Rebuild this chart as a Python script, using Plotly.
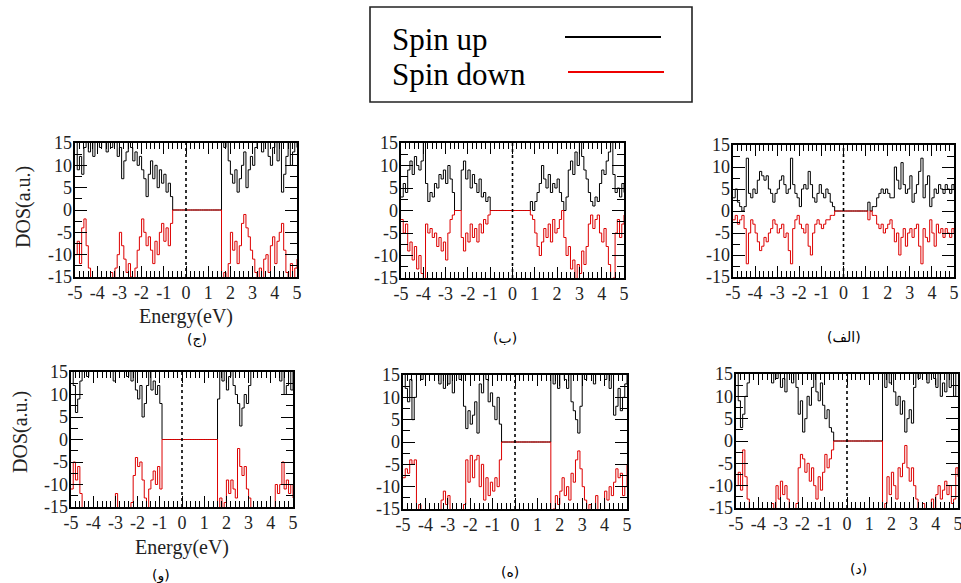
import plotly.graph_objects as go

# ---------------- data ----------------
ENERGY = [-5.0, -4.9, -4.8, -4.7, -4.6, -4.5, -4.4, -4.3, -4.2, -4.1,
          -4.0, -3.9, -3.8, -3.7, -3.6, -3.5, -3.4, -3.3, -3.2, -3.1,
          -3.0, -2.9, -2.8, -2.7, -2.6, -2.5, -2.4, -2.3, -2.2, -2.1,
          -2.0, -1.9, -1.8, -1.7, -1.6, -1.5, -1.4, -1.3, -1.2, -1.1,
          -1.0, -0.9, -0.8, -0.7, -0.6, -0.5, -0.4, -0.3, -0.2, -0.1,
          0.0, 0.1, 0.2, 0.3, 0.4, 0.5, 0.6, 0.7, 0.8, 0.9,
          1.0, 1.1, 1.2, 1.3, 1.4, 1.5, 1.6, 1.7, 1.8, 1.9,
          2.0, 2.1, 2.2, 2.3, 2.4, 2.5, 2.6, 2.7, 2.8, 2.9,
          3.0, 3.1, 3.2, 3.3, 3.4, 3.5, 3.6, 3.7, 3.8, 3.9,
          4.0, 4.1, 4.2, 4.3, 4.4, 4.5, 4.6, 4.7, 4.8, 4.9,
          5.0]

# panel (الف)
UP_A = [3, 5, 2, 1, 0, 1, 12, 4, 3, 5,
        4, 7, 9, 8, 7, 8, 5, 4, 2, 4,
        5, 7, 8, 6, 4, 5, 12, 6, 4, 3,
        1, 5, 6, 5, 9, 6, 3, 2, 4, 6,
        4, 3, 5, 4, 2, 1, 0, 0, 0, 0,
        0, 0, 0, 0, 0, 0, 0, 0, 0, 0,
        0, 2, 0, 1, 1, 3, 4, 5, 4, 5,
        4, 3, 3, 10, 7, 5, 11, 6, 4, 5,
        8, 2, 4, 6, 9, 12, 3, 6, 8, 1,
        3, 5, 4, 6, 5, 4, 6, 5, 4, 6,
        5]
DOWN_A = [-2, -1, -3, -2, -1, -4, -12, -5, -2, -3,
          -5, -7, -9, -8, -6, -7, -5, -4, -2, -3,
          -5, -4, -3, -6, -5, -9, -12, -4, -2, -1,
          -3, -4, -5, -3, -8, -10, -5, -3, -2, -3,
          -4, -3, -2, -2, -1, -1, 0, 0, 0, 0,
          0, 0, 0, 0, 0, 0, 0, 0, 0, 0,
          0, -2, 0, -1, -1, -3, -4, -3, -5, -4,
          -3, -2, -4, -7, -5, -10, -6, -4, -8, -5,
          -4, -6, -4, -3, -8, -12, -4, -6, -7, -2,
          -5, -8, -3, -5, -4, -6, -4, -5, -6, -4,
          -5]

# panel (ب)
UP_B = [3, 6, 4, 9, 11, 8, 12, 10, 9, 11,
        20, 6, 2, 4, 3, 6, 5, 8, 7, 9,
        6, 10, 7, 4, 0, 0, 0, 9, 11, 7,
        9, 5, 8, 6, 4, 7, 3, 4, 2, 3,
        0, 0, 0, 0, 0, 0, 0, 0, 0, 0,
        0, 0, 0, 0, 0, 0, 0, 0, 2, 0,
        2, 4, 6, 10, 7, 5, 8, 4, 6, 5,
        7, 4, 2, 0, 3, 9, 11, 8, 13, 10,
        20, 12, 9, 7, 4, 2, 1, 3, 2, 6,
        9, 8, 11, 13, 20, 8, 4, 5, 3, 6,
        4]
DOWN_B = [-2, -5, -3, -9, -7, -11, -8, -13, -10, -14,
          -20, -3, -5, -4, -6, -5, -8, -6, -9, -7,
          -11, -5, -2, -1, 0, 0, 0, -6, -9, -5,
          -7, -3, -6, -4, -7, -3, -5, -2, -3, -1,
          0, 0, 0, 0, 0, 0, 0, 0, 0, 0,
          0, 0, 0, 0, 0, 0, 0, 0, -1, -2,
          -5, -8, -10, -7, -4, -6, -3, -7, -2, -5,
          -4, -2, 0, -6, -10, -8, -13, -11, -20, -12,
          -14, -9, -12, -8, -3, -1, -4, -2, -1, -5,
          -7, -4, -8, -12, -20, -15, -5, -2, -6, -3,
          -1]

# panel (ج)
UP_C = [20, 9, 12, 8, 14, 20, 13, 20, 12, 20,
        20, 14, 20, 20, 13, 20, 14, 20, 20, 12,
        14, 7, 11, 13, 20, 14, 11, 13, 10, 12,
        9, 7, 3, 8, 11, 7, 10, 5, 9, 6,
        8, 4, 6, 3, 0, 0, 0, 0, 0, 0,
        0, 0, 0, 0, 0, 0, 0, 0, 0, 0,
        0, 0, 0, 0, 0, 0, 20, 14, 20, 11,
        8, 6, 9, 4, 7, 10, 13, 5, 9, 12,
        10, 14, 20, 20, 13, 20, 20, 12, 10, 14,
        20, 11, 20, 4, 8, 12, 20, 10, 13, 20,
        14]
DOWN_C = [-10, -7, -12, -4, -2, -8, -13, -20, -20, -20,
          -20, -20, -20, -20, -20, -20, -14, -20, -13, -10,
          -5, -8, -11, -14, -12, -15, -20, -13, -9, -6,
          -2, -5, -8, -6, -9, -12, -7, -10, -5, -3,
          -7, -4, -8, -3, 0, 0, 0, 0, 0, 0,
          0, 0, 0, 0, 0, 0, 0, 0, 0, 0,
          0, 0, 0, 0, 0, 0, -20, -14, -20, -12,
          -5, -9, -7, -12, -8, -3, -1, -4, -6, -9,
          -11, -14, -20, -13, -20, -11, -10, -14, -8, -6,
          -12, -7, -5, -3, -9, -14, -20, -12, -20, -13,
          -11]

# panel (د)
UP_D = [20, 9, 3, 6, 10, 13, 20, 20, 20, 20,
        20, 20, 20, 20, 20, 20, 13, 20, 14, 20,
        12, 14, 11, 20, 20, 13, 20, 12, 6, 9,
        2, 5, 10, 8, 12, 20, 11, 9, 13, 8,
        5, 7, 3, 2, 0, 0, 0, 0, 0, 0,
        0, 0, 0, 0, 0, 0, 0, 0, 0, 0,
        0, 0, 0, 0, 0, 0, 20, 12, 20, 13,
        20, 11, 8, 10, 6, 9, 2, 5, 7, 4,
        12, 20, 14, 20, 20, 20, 13, 20, 20, 14,
        12, 20, 10, 13, 11, 20, 12, 20, 10, 20,
        20]
DOWN_D = [-10, -7, -11, -2, -8, -13, -20, -20, -20, -20,
          -20, -20, -20, -20, -20, -20, -14, -20, -10, -13,
          -9, -12, -10, -13, -20, -20, -20, -14, -6, -3,
          -4, -7, -5, -9, -6, -10, -13, -8, -11, -7,
          -3, -6, -4, -2, 0, 0, 0, 0, 0, 0,
          0, 0, 0, 0, 0, 0, 0, 0, 0, 0,
          0, 0, 0, 0, 0, 0, -20, -14, -8, -12,
          -7, -10, -13, -6, -8, -5, -1, -6, -9, -6,
          -10, -13, -20, -20, -14, -20, -20, -20, -13, -20,
          -12, -10, -13, -11, -9, -12, -10, -14, -13, -6,
          -8]

# panel (ه)
UP_E = [20, 12, 9, 14, 5, 10, 20, 20, 14, 20,
        20, 20, 20, 20, 20, 20, 13, 20, 12, 20,
        13, 20, 11, 20, 20, 14, 20, 8, 3, 7,
        4, 6, 9, 2, 13, 11, 20, 14, 9, 11,
        8, 5, 10, 4, 0, 0, 0, 0, 0, 0,
        0, 0, 0, 0, 0, 0, 0, 0, 0, 0,
        0, 0, 0, 0, 0, 0, 20, 13, 20, 12,
        20, 20, 14, 12, 20, 9, 7, 5, 2, 8,
        20, 14, 20, 20, 20, 13, 20, 20, 20, 20,
        14, 20, 12, 20, 6, 8, 12, 7, 10, 13,
        20]
DOWN_E = [-8, -6, -7, -4, -5, -4, -20, -14, -20, -20,
          -20, -20, -20, -20, -20, -20, -20, -13, -11, -14,
          -12, -20, -20, -20, -20, -20, -20, -14, -4, -9,
          -3, -8, -4, -3, -10, -5, -13, -8, -12, -9,
          -11, -8, -10, -4, 0, 0, 0, 0, 0, 0,
          0, 0, 0, 0, 0, 0, 0, 0, 0, 0,
          0, 0, 0, 0, 0, 0, -20, -15, -12, -14,
          -11, -8, -12, -10, -13, -7, -9, -4, -2, -6,
          -10, -13, -20, -14, -20, -20, -12, -20, -20, -20,
          -11, -13, -10, -12, -9, -6, -8, -7, -12, -10,
          -5]

# panel (و)
UP_F = [20, 12, 6, 9, 13, 20, 20, 14, 20, 20,
        20, 20, 20, 20, 20, 20, 20, 20, 20, 13,
        20, 20, 20, 20, 20, 14, 20, 13, 20, 11,
        9, 12, 5, 8, 12, 20, 11, 13, 10, 12,
        8, 0, 0, 0, 0, 0, 0, 0, 0, 0,
        0, 0, 0, 0, 0, 0, 0, 0, 0, 0,
        0, 0, 0, 0, 0, 0, 9, 20, 13, 20,
        11, 14, 20, 12, 10, 8, 3, 7, 10, 8,
        12, 20, 20, 20, 20, 20, 20, 20, 20, 20,
        20, 20, 20, 20, 13, 20, 10, 12, 20, 11,
        20]
DOWN_F = [-11, -5, -9, -6, -12, -20, -20, -20, -20, -20,
          -20, -20, -20, -20, -20, -20, -20, -20, -20, -20,
          -12, -20, -20, -20, -20, -20, -20, -14, -8, -4,
          -6, -5, -9, -13, -20, -11, -9, -7, -10, -6,
          -11, 0, 0, 0, 0, 0, 0, 0, 0, 0,
          0, 0, 0, 0, 0, 0, 0, 0, 0, 0,
          0, 0, 0, 0, 0, 0, -20, -13, -20, -14,
          -9, -12, -9, -11, -13, -2, -6, -8, -6, -11,
          -13, -20, -20, -20, -20, -20, -20, -20, -20, -20,
          -20, -20, -10, -12, -10, -5, -11, -9, -12, -10,
          -13]

X_TICKS = [-5, -4, -3, -2, -1, 0, 1, 2, 3, 4, 5]
X_TICK_TEXT = ["-5", "-4", "-3", "-2", "-1", "0", "1", "2", "3", "4", "5"]
Y_TICKS = [-15, -10, -5, 0, 5, 10, 15]
Y_TICK_TEXT = ["-15", "-10", "-5", "0", "5", "10", "15"]

PANEL_LABELS = ["(ج)", "(ب)", "(الف)", "(و)", "(ه)", "(د)"]
LEGEND_NAMES = ["Spin up", "Spin down"]
X_TITLE = "Energy(eV)"
Y_TITLE = "DOS(a.u.)"

# ---------------- layout geometry (pixels) ----------------
W, H = 961, 583
SERIES = [(UP_C, DOWN_C), (UP_B, DOWN_B), (UP_A, DOWN_A),
          (UP_F, DOWN_F), (UP_E, DOWN_E), (UP_D, DOWN_D)]
BOXES = [(75, 297, 143, 277), (401, 624, 143, 278), (733, 954, 145, 277),
         (71, 293, 372, 507), (403, 627, 375, 509), (736, 958, 374, 508)]
LABEL_POS = [(197, 339), (505, 338), (844, 337), (161, 575), (510, 572), (858, 569)]
N = len(SERIES)

def px(x):
    return x / W

def py(y):
    return 1 - y / H

def ax_id(prefix, k):
    return prefix if k == 1 else f"{prefix}{k}"

def ax_key(prefix, k):
    return f"{prefix}axis" if k == 1 else f"{prefix}axis{k}"

SERIF = "Liberation Serif, Times New Roman, serif"
TICKFONT = dict(family=SERIF, size=18, color="#222222")
UP_COLOR = "black"
DOWN_COLOR = "#dd0000"

fig = go.Figure()
layout = dict(
    template="none",
    width=W, height=H, margin=dict(l=0, r=0, t=0, b=0, autoexpand=False),
    paper_bgcolor="white", plot_bgcolor="white", showlegend=False,
)
shapes = []
annotations = []

for i, ((up, down), (x0, x1, y0, y1)) in enumerate(zip(SERIES, BOXES), start=1):
    xa, ya = ax_id("x", i), ax_id("y", i)
    xo, yo = ax_id("x", i + N), ax_id("y", i + N)
    fig.add_trace(go.Scatter(x=ENERGY, y=up, mode="lines", line_shape="hv",
                             line=dict(color=UP_COLOR, width=1), xaxis=xa, yaxis=ya,
                             name=LEGEND_NAMES[0], hoverinfo="skip"))
    fig.add_trace(go.Scatter(x=ENERGY, y=down, mode="lines", line_shape="hv",
                             line=dict(color=DOWN_COLOR, width=1), xaxis=xa, yaxis=ya,
                             name=LEGEND_NAMES[1], hoverinfo="skip"))
    # empty traces so that the overlay (major-tick) axes are drawn
    fig.add_trace(go.Scatter(x=[], y=[], mode="lines", xaxis=xo, yaxis=ya,
                             hoverinfo="skip", showlegend=False))
    fig.add_trace(go.Scatter(x=[], y=[], mode="lines", xaxis=xa, yaxis=yo,
                             hoverinfo="skip", showlegend=False))
    # base axes: frame + minor ticks
    layout[ax_key("x", i)] = dict(
        domain=[px(x0), px(x1)], anchor=ya, range=[-5, 5], automargin=False,
        tickmode="linear", tick0=0, dtick=0.2, showticklabels=False,
        ticks="inside", ticklen=6, tickwidth=1.1, tickcolor="black",
        showline=True, linecolor="black", linewidth=1.6, mirror="ticks",
        showgrid=False, zeroline=False, fixedrange=True,
    )
    layout[ax_key("y", i)] = dict(
        domain=[py(y1), py(y0)], anchor=xa, range=[-15, 15], automargin=False,
        tickmode="linear", tick0=0, dtick=2.5, showticklabels=False,
        ticks="inside", ticklen=7, tickwidth=1.1, tickcolor="black",
        showline=True, linecolor="black", linewidth=1.6, mirror="ticks",
        showgrid=False, zeroline=False, fixedrange=True,
    )
    # overlay axes: major ticks + labels
    layout[ax_key("x", i + N)] = dict(
        overlaying=xa, anchor=ya, side="bottom", range=[-5, 5], automargin=False,
        tickmode="array", tickvals=X_TICKS, ticktext=X_TICK_TEXT,
        ticks="inside", ticklen=11, tickwidth=1.3, tickcolor="black",
        showline=False, mirror="ticks", showgrid=False, zeroline=False,
        tickfont=TICKFONT, ticklabelstandoff=3, ticklabeloverflow="allow",
        fixedrange=True,
    )
    layout[ax_key("y", i + N)] = dict(
        overlaying=ya, anchor=xa, side="left", range=[-15, 15], automargin=False,
        tickmode="array", tickvals=Y_TICKS, ticktext=Y_TICK_TEXT,
        ticks="inside", ticklen=12, tickwidth=1.3, tickcolor="black",
        showline=False, mirror="ticks", showgrid=False, zeroline=False,
        tickfont=TICKFONT, ticklabelstandoff=2, ticklabeloverflow="allow",
        fixedrange=True,
    )
    shapes.append(dict(type="line", xref=xa, yref=f"{ya} domain", x0=0, x1=0, y0=0, y1=1,
                       line=dict(color="black", width=1.6, dash="dot"), layer="above"))
    lx, ly = LABEL_POS[i - 1]
    annotations.append(dict(text=PANEL_LABELS[i - 1], xref="paper", yref="paper",
                            x=px(lx), y=py(ly), xanchor="center", yanchor="middle",
                            showarrow=False,
                            font=dict(family="DejaVu Sans, Noto Sans, sans-serif",
                                      size=14, color="black")))

# axis titles (left column only)
for (cx, cy) in [(186, 316), (182, 547)]:
    annotations.append(dict(text=X_TITLE, xref="paper", yref="paper", x=px(cx), y=py(cy),
                            xanchor="center", yanchor="middle", showarrow=False,
                            font=dict(family=SERIF, size=20, color="#222222")))
for (cx, cy) in [(23, 207), (20, 432)]:
    annotations.append(dict(text=Y_TITLE, xref="paper", yref="paper", x=px(cx), y=py(cy),
                            xanchor="center", yanchor="middle", showarrow=False, textangle=-90,
                            font=dict(family=SERIF, size=20, color="#222222")))

# legend box
shapes.append(dict(type="rect", xref="paper", yref="paper", x0=px(370), x1=px(692),
                   y0=py(102), y1=py(7), line=dict(color="#222222", width=1.6)))
shapes.append(dict(type="line", xref="paper", yref="paper", x0=px(565), x1=px(661),
                   y0=py(37), y1=py(37), line=dict(color=UP_COLOR, width=2)))
shapes.append(dict(type="line", xref="paper", yref="paper", x0=px(568), x1=px(664),
                   y0=py(72), y1=py(72), line=dict(color="#ee0000", width=2)))
for name, cy in zip(LEGEND_NAMES, [40, 74]):
    annotations.append(dict(text=name, xref="paper", yref="paper", x=px(390), y=py(cy),
                            xanchor="left", yanchor="middle", showarrow=False,
                            font=dict(family=SERIF, size=31, color="black")))

layout["shapes"] = shapes
layout["annotations"] = annotations
fig.update_layout(**layout)
fig.write_html("out.html", config={"displayModeBar": False},
               post_script="document.body.style.margin='0px';document.body.style.padding='0px';")
